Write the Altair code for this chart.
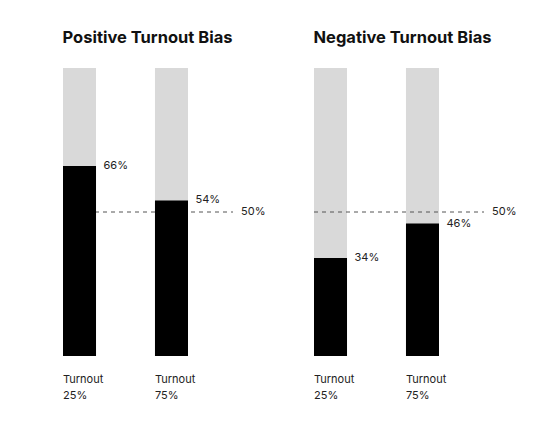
import altair as alt
import pandas as pd

panels = ["Positive Turnout Bias", "Negative Turnout Bias"]
turnout = ["25%", "75%"]
values_pos = [66, 54]
values_neg = [34, 46]
threshold = 50
threshold_label = "50%"

FONT = "Inter"

def panel(title, values):
    df = pd.DataFrame({
        "turnout": turnout,
        "value": values,
        "full": [100] * len(turnout),
        "label": [f"{v}%" for v in values],
    })
    thr = pd.DataFrame({"v": [threshold], "t": [threshold_label]})
    base = alt.Chart(df)
    x = alt.X("turnout:N",
              scale=alt.Scale(domain=turnout, paddingInner=0.641, paddingOuter=0),
              axis=alt.Axis(title=None, domain=False, ticks=False, grid=False,
                            labelOffset=-16.5, labelAlign="left", labelBaseline="top",
                            labelExpr="['Turnout', datum.value]",
                            labelFont=FONT, labelFontSize=11, labelColor="#222",
                            labelLineHeight=16, labelPadding=17, labelAngle=0))
    yscale = alt.Scale(domain=[0, 100])
    grey = base.mark_bar(color="#d9d9d9").encode(
        x=x, y=alt.Y("full:Q", scale=yscale, axis=None))
    black = base.mark_bar(color="#000000").encode(
        x=x, y=alt.Y("value:Q", scale=yscale, axis=None))
    labels = base.mark_text(align="left", baseline="middle", dx=24, font=FONT,
                            fontSize=11, color="#222").encode(
        x=x, y=alt.Y("value:Q", scale=yscale, axis=None), text="label:N")
    rule = alt.Chart(thr).mark_rule(color="#555", strokeDash=[4, 4], strokeWidth=1).encode(
        y=alt.Y("v:Q", scale=yscale, axis=None), x=alt.value(0), x2=alt.value(170))
    rtext = alt.Chart(thr).mark_text(align="left", baseline="middle", font=FONT,
                                     fontSize=11, color="#222").encode(
        y=alt.Y("v:Q", scale=yscale, axis=None), x=alt.value(178), text="t:N")
    return alt.layer(grey, rule, black, labels, rtext).properties(
        width=125, height=288,
        title=alt.TitleParams(title, anchor="start", font=FONT, fontSize=16.5,
                              fontWeight="bold", color="#111", offset=22))

chart = alt.hconcat(panel(panels[0], values_pos), panel(panels[1], values_neg),
                    spacing=126).properties(
    bounds="flush", background="white",
    padding={"left": 54, "top": 21, "right": 5, "bottom": 5}
).configure_view(stroke="transparent", strokeWidth=0)

chart.save("out.html", embed_options={"renderer": "svg", "actions": False})
